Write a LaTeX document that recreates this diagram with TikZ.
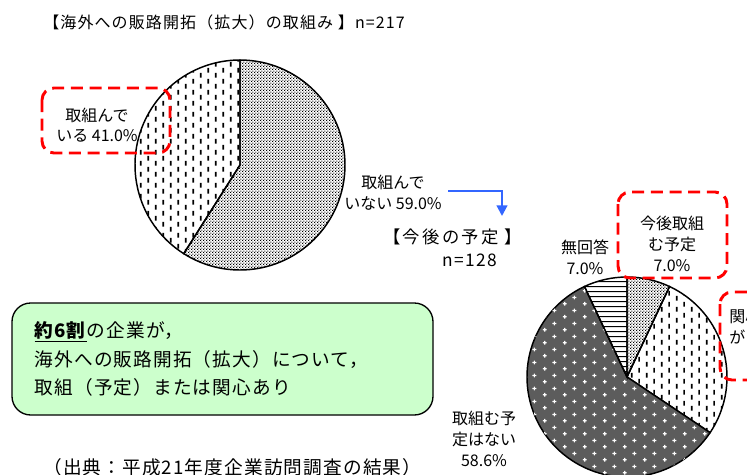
\documentclass[tikz,border=0pt]{standalone}
\usepackage{fontspec}
\setmainfont{Noto Sans CJK JP}
\usetikzlibrary{arrows.meta,patterns.meta}
\definecolor{puna}{HTML}{FF0000}
\definecolor{sini}{HTML}{3366FF}
\definecolor{vihrea}{HTML}{CCFFCC}
\tikzdeclarepattern{
  name=pisteet, type=uncolored,
  bounding box={(0pt,0pt) and (2.4pt,2.4pt)}, tile size={(2.4pt,2.4pt)},
  code={\fill (0pt,0pt) rectangle (1pt,1pt); \fill (1.2pt,1.2pt) rectangle (2.2pt,2.2pt);}
}
\tikzdeclarepattern{
  name=viivat, type=uncolored,
  bounding box={(0pt,0pt) and (11.5pt,7.9pt)}, tile size={(11.5pt,7.9pt)},
  code={\draw[line width=1.3pt] (2.9pt,0.2pt) -- (2.9pt,4pt);
        \draw[line width=1.3pt] (8.7pt,4.1pt) -- (8.7pt,7.9pt);}
}
\tikzdeclarepattern{
  name=vaaka, type=uncolored,
  bounding box={(0pt,0pt) and (4pt,4pt)}, tile size={(4pt,4pt)},
  code={\draw[line width=0.8pt] (0pt,2pt) -- (4pt,2pt);}
}
\tikzdeclarepattern{
  name=ristit, type=uncolored,
  bounding box={(0pt,0pt) and (15pt,10pt)}, tile size={(15pt,10pt)},
  code={\draw[line width=0.9pt] (2.25pt,2.5pt) -- (5.25pt,2.5pt) (3.75pt,1pt) -- (3.75pt,4pt);
        \draw[line width=0.9pt] (9.75pt,7.5pt) -- (12.75pt,7.5pt) (11.25pt,6pt) -- (11.25pt,9pt);}
}
\begin{document}
\begin{tikzpicture}[x=0.75pt,y=-0.75pt,
  callout/.style={draw=puna, line width=2.2pt, dash pattern=on 9pt off 5pt, rounded corners=9pt},
  lbl/.style={align=center, inner sep=0pt, font=\fontsize{12}{15.5}\selectfont}]
\newcommand\sektori[4]{
\path[draw, line width=1.1pt, #1] (0,0) -- (#2:#4) arc[start angle=#2, end angle=#3, radius=#4] -- cycle;
}
\useasboundingbox (0,0) rectangle (747,475);
\clip (0,0) rectangle (747,475);
\node[anchor=west, inner sep=0pt, font={\fontsize{12}{14}\selectfont\addfontfeatures{LetterSpace=7}}] (otsikko) at (43,22) {【海外への販路開拓（拡大）の取組み 】n=217};
% ensimmainen piirakka
\begin{scope}[shift={(240,165)}]
\sektori{pattern=pisteet}{-90}{122.4}{105}
\sektori{pattern=viivat}{122.4}{270}{105}
\end{scope}
\draw[callout] (42,88) rectangle (170,153);
\node[lbl] (on) at (97,125) {取組んで\\いる 41.0\%};
\node[lbl] (ei) at (393,193) {取組んで\\いない 59.0\%};
\coordinate (nuoliA) at (448,191);
\coordinate (nuoliB) at (502,216);
\draw[sini, line width=1.6pt, -{Triangle[length=8pt,width=8pt]}] (nuoliA) -| (nuoliB);
\node[anchor=west, inner sep=0pt, font={\fontsize{13}{15}\selectfont\addfontfeatures{LetterSpace=13}}] (ennuste) at (383,237) {【今後の予定 】};
\node[inner sep=0pt, font={\fontsize{13}{15}\selectfont\addfontfeatures{LetterSpace=8}}] (n2) at (470,260) {n=128};
% toinen piirakka
\begin{scope}[shift={(627,377)}]
\sektori{pattern=pisteet}{-90}{-64.8}{100}
\sektori{pattern=viivat}{-64.8}{33.8}{100}
\sektori{fill=black!64, postaction={pattern=ristit, pattern color=white}}{33.8}{244.8}{100}
\sektori{pattern=vaaka}{244.8}{270}{100}
\end{scope}
\node[lbl] (vastaus) at (585,257) {無回答\\7.0\%};
\draw[callout] (618,192) rectangle (727,278);
\node[lbl] (tuleva) at (672,244) {今後取組\\む予定\\7.0\%};
\draw[callout] (720,292) rectangle (790,380);
\node[lbl, anchor=west, align=left] (kiinnostus) at (729,327) {関心\\がある};
\node[lbl] (eiole) at (484,439) {取組む予\\定はない\\58.6\%};
% yhteenveto
\node[draw, line width=1pt, fill=vihrea, rounded corners=14pt, minimum width=315.75pt, minimum height=84pt,
  inner xsep=17pt, text width=281.75pt, align=left, font={\fontsize{14}{21.5}\selectfont\addfontfeatures{LetterSpace=6}}] (tulos) at (222.5,359)
  {\underline{\textbf{約6割}}の企業が，\\海外への販路開拓（拡大）について，\\取組（予定）または関心あり};
\node[anchor=west, inner sep=0pt, font={\fontsize{14}{16}\selectfont\addfontfeatures{LetterSpace=6}}] (lahde) at (43,467) {（出典：平成21年度企業訪問調査の結果）};
\end{tikzpicture}
\end{document}
